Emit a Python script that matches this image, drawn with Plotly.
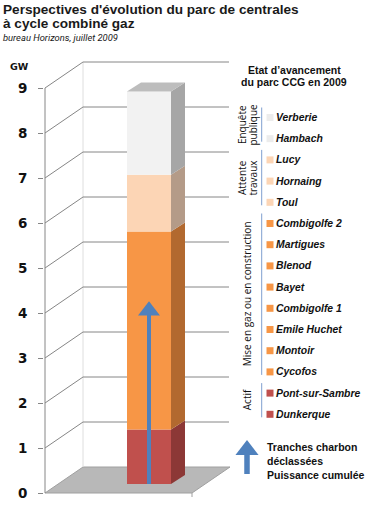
import plotly.graph_objects as go

# ---------------- data ----------------
segment_names = ["Actif", "Mise en gaz ou en construction", "Attente travaux", "Enquête publique"]
segment_gw = [1.21, 4.40, 1.26, 1.85]
front_colors = ["#c0504d", "#f79646", "#fcd5b5", "#f2f2f2"]
side_colors = ["#8c3836", "#b2692f", "#b49b88", "#a6a6a6"]
top_color = "#bdbdbd"
coal_decommissioned_gw = 4.06
tick_values = list(range(10))

legend_groups = [
    (["Enquête", "publique"], ["Verberie", "Hambach"], "#ececec"),
    (["Attente", "travaux"], ["Lucy", "Hornaing", "Toul"], "#fcd5b5"),
    (["Mise en gaz ou en construction"],
     ["Combigolfe 2", "Martigues", "Blenod", "Bayet", "Combigolfe 1",
      "Emile Huchet", "Montoir", "Cycofos"], "#f79646"),
    (["Actif"], ["Pont-sur-Sambre", "Dunkerque"], "#c0504d"),
]

title_lines = ["Perspectives d'évolution du parc de centrales", "à cycle combiné gaz"]
subtitle = "bureau Horizons, juillet 2009"
legend_title = ["Etat d’avancement", "du parc CCG en 2009"]
arrow_legend = ["Tranches charbon", "déclassées", "Puissance cumulée"]

# ---------------- geometry ----------------
W, H = 373, 510
ML, MR, MT, MB = 44, 0, 0, 4
PPG = 45.0          # pixels per GW
Y0PX = 493          # pixel row of value 0 on the front axis
AXPX = 45           # pixel column of the value axis

def X(px):
    return px - AXPX

def Y(py):
    return (Y0PX - py) / PPG

def PX(px):
    return (px - ML) / (W - ML - MR)

def PY(py):
    return (H - MB - py) / (H - MT - MB)

DX, DY = 38, 26 / PPG             # wall depth
WALL_END = X(229)
FLOOR_END = X(192)
BAR_C, BAR_W = X(149), 44
BAR_L, BAR_R = BAR_C - BAR_W / 2, BAR_C + BAR_W / 2
FB = 9 / PPG                      # bar front offset
BDX, BDY = 14, 9 / PPG            # bar depth

GRID = "#868686"
BLUE = "#4f81bd"

fig = go.Figure()
shapes = []

# floor
shapes.append(dict(type="path", layer="below", xref="x", yref="y",
                   path=f"M 0,0 L {FLOOR_END},0 L {FLOOR_END + DX},{DY} L {DX},{DY} Z",
                   fillcolor="#b8b8b8", line=dict(color="#a0a0a0", width=1)))
shapes.append(dict(type="line", layer="below", xref="x", yref="y",
                   x0=FLOOR_END, y0=0, x1=FLOOR_END, y1=-4 / PPG,
                   line=dict(color="#a0a0a0", width=1)))
# back-left corner
shapes.append(dict(type="line", layer="below", xref="x", yref="y",
                   x0=DX, y0=DY, x1=DX, y1=tick_values[-1] + DY,
                   line=dict(color="#dedede", width=1)))
# gridlines with perspective
for v in tick_values[1:]:
    shapes.append(dict(type="path", layer="below", xref="x", yref="y",
                       path=f"M 0,{v} L {DX},{v + DY} L {WALL_END},{v + DY}",
                       line=dict(color=GRID, width=1)))
# axis line
shapes.append(dict(type="line", layer="below", xref="x", yref="y",
                   x0=0, y0=0, x1=0, y1=tick_values[-1],
                   line=dict(color="#868686", width=1)))

# bars (front faces)
cum = 0.0
bottoms = []
for name, v, c in zip(segment_names, segment_gw, front_colors):
    bottoms.append(cum)
    fig.add_trace(go.Bar(x=[BAR_C], y=[v], base=[FB + cum], width=BAR_W,
                         marker=dict(color=c, line=dict(width=0)), name=name,
                         hoverinfo="skip"))
    cum += v
total = cum

# side faces
for b, v, sc in zip(bottoms, segment_gw, side_colors):
    y0, y1 = FB + b, FB + b + v
    fig.add_trace(go.Scatter(
        x=[BAR_R, BAR_R + BDX, BAR_R + BDX, BAR_R, BAR_R],
        y=[y0, y0 + BDY, y1 + BDY, y1, y0],
        fill="toself", fillcolor=sc, mode="lines", line=dict(width=0),
        hoverinfo="skip"))
# top face
T = FB + total
fig.add_trace(go.Scatter(
    x=[BAR_L, BAR_L + BDX, BAR_R + BDX, BAR_R, BAR_L],
    y=[T, T + BDY, T + BDY, T, T],
    fill="toself", fillcolor=top_color, mode="lines", line=dict(width=0),
    hoverinfo="skip"))

# cumulated decommissioned coal arrow
HEAD = 19
r_gw = (HEAD / 2) / PPG
tip = FB + coal_decommissioned_gw
fig.add_trace(go.Scatter(x=[BAR_C, BAR_C], y=[FB, tip - r_gw], mode="lines",
                         line=dict(color=BLUE, width=4), hoverinfo="skip"))
fig.add_trace(go.Scatter(x=[BAR_C], y=[tip - r_gw], mode="markers",
                         marker=dict(symbol="triangle-up", size=HEAD, color=BLUE,
                                     line=dict(width=0)),
                         hoverinfo="skip", cliponaxis=False))

# ---------------- legend ----------------
annotations = []
item_y0, item_step = 117.5, 21.2
sq_x, txt_x = 270, 274
k = 0
for labels, plants, color in legend_groups:
    ys = []
    for p in plants:
        yy = item_y0 + k * item_step
        ys.append(yy)
        annotations.append(dict(xref="paper", yref="paper", x=PX(txt_x), y=PY(yy),
                                text=f"<b><i>{p}</i></b>", showarrow=False,
                                xanchor="left", yanchor="middle",
                                font=dict(family="Liberation Sans", size=10.4, color="#111")))
        fig.add_trace(go.Scatter(x=[X(sq_x)], y=[Y(yy)], mode="markers",
                                 marker=dict(symbol="square", size=7, color=color),
                                 hoverinfo="skip", cliponaxis=False))
        k += 1
    top_px, bot_px = ys[0] - 10, ys[-1] + 3
    shapes.append(dict(type="line", xref="paper", yref="paper",
                       x0=PX(261.7), x1=PX(261.7), y0=PY(top_px), y1=PY(bot_px),
                       line=dict(color="#7f9fcf", width=1)))
    mid = (top_px + bot_px) / 2
    xs = [247] if len(labels) == 1 else [241.5, 253]
    for lab, lx in zip(labels, xs):
        annotations.append(dict(xref="paper", yref="paper", x=PX(lx), y=PY(mid),
                                text=lab, showarrow=False, textangle=-90,
                                xanchor="center", yanchor="middle",
                                font=dict(family="Open Sans", size=10, color="#111")))

for i, t in enumerate(legend_title):
    annotations.append(dict(xref="paper", yref="paper", x=PX(294), y=PY(70 + i * 12),
                            text=f"<b>{t}</b>", showarrow=False,
                            xanchor="center", yanchor="middle",
                            font=dict(family="Liberation Sans", size=10.5, color="#111")))

# legend arrow
LHEAD = 20
lr = (LHEAD / 2) / PPG
fig.add_trace(go.Scatter(x=[X(247), X(247)], y=[Y(474), Y(440) - lr], mode="lines",
                         line=dict(color=BLUE, width=5.5), hoverinfo="skip"))
fig.add_trace(go.Scatter(x=[X(247)], y=[Y(440) - lr], mode="markers",
                         marker=dict(symbol="triangle-up", size=LHEAD, color=BLUE,
                                     line=dict(width=0)),
                         hoverinfo="skip", cliponaxis=False))
for i, t in enumerate(arrow_legend):
    annotations.append(dict(xref="paper", yref="paper", x=PX(265), y=PY(446.5 + i * 14.2),
                            text=f"<b>{t}</b>", showarrow=False,
                            xanchor="left", yanchor="middle",
                            font=dict(family="Liberation Sans", size=10.5, color="#111")))

# titles
annotations.append(dict(xref="paper", yref="paper", x=PX(2), y=PY(9),
                        text=f"<b>{title_lines[0]}</b>", showarrow=False,
                        xanchor="left", yanchor="middle", borderpad=0,
                        font=dict(family="Liberation Sans", size=13.6, color="#1a1a1a")))
annotations.append(dict(xref="paper", yref="paper", x=PX(2), y=PY(23.5),
                        text=f"<b>{title_lines[1]}</b>", showarrow=False,
                        xanchor="left", yanchor="middle", borderpad=0,
                        font=dict(family="Liberation Sans", size=13.6, color="#1a1a1a")))
annotations.append(dict(xref="paper", yref="paper", x=PX(2), y=PY(37),
                        text=f"<i>{subtitle}</i>", showarrow=False,
                        xanchor="left", yanchor="middle", borderpad=0,
                        font=dict(family="Roboto", size=9.4, color="#1a1a1a")))
annotations.append(dict(xref="paper", yref="paper", x=PX(19.5), y=PY(66),
                        text="<b>GW</b>", showarrow=False,
                        xanchor="center", yanchor="middle",
                        font=dict(family="DejaVu Sans", size=9.5, color="#111")))

fig.update_layout(
    width=W, height=H,
    margin=dict(l=ML, r=MR, t=MT, b=MB, autoexpand=False),
    paper_bgcolor="white", plot_bgcolor="white",
    showlegend=False, barmode="overlay",
    shapes=shapes, annotations=annotations,
    xaxis=dict(visible=False, range=[-1, W - ML - MR - 1], fixedrange=True),
    yaxis=dict(range=[Y(H - MB), Y(MT)], tickvals=tick_values,
               ticktext=[str(v) for v in tick_values],
               showgrid=False, zeroline=False, showline=False, automargin=False,
               ticks="outside", ticklen=5, tickcolor="#868686",
               ticklabelstandoff=8,
               tickfont=dict(family="DejaVu Sans", size=13.5, color="#111", weight="bold"),
               fixedrange=True),
)

fig.write_html("out.html", config={"displayModeBar": False},
               post_script="document.body.style.margin='0';document.body.style.overflow='hidden';")
